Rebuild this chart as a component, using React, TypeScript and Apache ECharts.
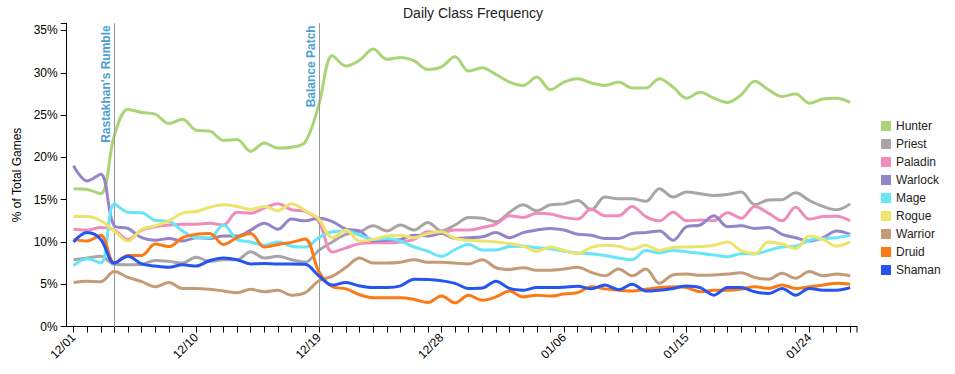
import React, { useEffect, useRef } from 'react';
import * as echarts from 'echarts';

const dates = [
  '12/01', '12/02', '12/03', '12/04', '12/05', '12/06', '12/07', '12/08', '12/09', '12/10',
  '12/11', '12/12', '12/13', '12/14', '12/15', '12/16', '12/17', '12/18', '12/19', '12/20',
  '12/21', '12/22', '12/23', '12/24', '12/25', '12/26', '12/27', '12/28', '12/29', '12/30',
  '12/31', '01/01', '01/02', '01/03', '01/04', '01/05', '01/06', '01/07', '01/08', '01/09',
  '01/10', '01/11', '01/12', '01/13', '01/14', '01/15', '01/16', '01/17', '01/18', '01/19',
  '01/20', '01/21', '01/22', '01/23', '01/24', '01/25', '01/26', '01/27',
];

const hunter = [
  16.3, 16.2, 15.7, 22.6, 25.7, 25.3, 25.1, 24.0, 24.5, 23.2,
  23.1, 22.0, 22.1, 20.7, 21.7, 21.1, 21.2, 21.8, 26.2, 32.0,
  30.8, 31.5, 32.8, 31.6, 31.8, 31.4, 30.4, 30.7, 31.9, 30.2,
  30.6, 29.8, 28.9, 28.5, 29.5, 28.0, 28.9, 29.3, 28.8, 28.5,
  28.9, 28.2, 28.2, 29.3, 28.3, 27.0, 27.7, 27.0, 26.5, 27.4,
  29.0, 28.0, 27.2, 27.5, 26.4, 26.9, 27.0, 26.5,
];
const priest = [
  7.9, 8.1, 8.3, 7.35, 7.3, 7.35, 7.8, 7.7, 7.5, 8.2,
  7.7, 7.9, 7.9, 8.85, 8.1, 8.3, 7.9, 7.6, 9.0, 10.0,
  10.9, 11.2, 11.9, 11.3, 12.0, 11.4, 12.3, 11.3, 12.0, 12.9,
  12.8, 12.4, 13.5, 14.4, 13.7, 14.4, 14.5, 14.9, 13.8, 15.3,
  15.1, 15.1, 14.8, 16.3, 15.3, 15.9, 15.7, 15.5, 15.6, 15.9,
  14.4, 14.95, 15.0, 15.8, 14.9, 14.2, 13.8, 14.5,
];
const paladin = [
  11.5, 11.4, 11.7, 11.4, 10.3, 11.4, 11.8, 12.0, 12.1, 12.1,
  12.2, 12.0, 13.5, 13.4, 14.0, 14.5, 13.8, 13.6, 12.4, 8.8,
  9.3, 9.8, 9.9, 9.9, 10.0, 10.3, 11.2, 11.1, 11.4, 11.4,
  11.7, 12.1, 13.1, 12.9, 13.4, 13.3, 12.9, 12.7, 13.9, 13.1,
  13.1, 14.2, 13.0, 12.5, 13.5, 12.5, 12.6, 12.5, 13.45, 12.8,
  14.2, 13.4, 12.5, 14.1, 12.7, 13.0, 13.05, 12.5,
];
const warlock = [
  19.0, 17.2, 18.0, 11.9, 11.6, 10.5, 10.2, 10.4, 10.1, 10.5,
  10.4, 10.7, 10.7, 11.4, 12.2, 11.5, 12.7, 12.5, 12.8, 12.4,
  11.5, 11.3, 10.1, 10.2, 10.3, 10.8, 10.7, 11.0, 10.4, 10.5,
  10.6, 11.1, 10.5, 11.1, 11.4, 11.6, 11.4, 10.9, 10.8, 10.4,
  10.4, 11.0, 11.1, 11.3, 10.2, 11.8, 12.0, 13.1, 11.8, 11.9,
  11.6, 11.7, 10.9, 10.5, 10.1, 10.5, 11.3, 10.9,
];
const mage = [
  7.2, 8.0, 7.5, 14.5, 13.5, 13.45, 12.55, 12.45, 11.3, 10.5,
  10.5, 12.0, 10.3, 10.0, 9.6, 10.0, 9.5, 9.4, 10.5, 11.2,
  11.3, 10.8, 10.3, 10.4, 10.1, 9.4, 8.9, 8.3, 9.1, 9.7,
  9.05, 9.05, 9.45, 9.5, 9.3, 9.2, 8.9, 8.7, 8.6, 8.4,
  8.1, 7.9, 9.0, 8.7, 9.0, 8.85, 8.65, 8.45, 8.25, 8.6,
  8.6, 9.0, 9.4, 9.5, 10.2, 10.4, 10.5, 10.8,
];
const rogue = [
  13.0, 13.0, 12.5, 11.3, 10.1, 11.5, 11.9, 12.5, 13.4, 13.6,
  14.1, 14.4, 14.2, 13.85, 14.2, 13.7, 14.5, 13.7, 12.7, 10.5,
  11.4, 10.1, 10.3, 10.7, 10.8, 10.5, 11.0, 11.2, 10.4, 10.2,
  10.1, 10.0, 9.8, 9.5, 8.9, 9.4, 9.0, 8.6, 9.35, 9.6,
  9.5, 9.1, 9.6, 9.0, 9.35, 9.4, 9.45, 9.6, 10.0, 8.96,
  8.6, 10.0, 9.75, 9.2, 10.7, 10.3, 9.5, 10.0,
];
const warrior = [
  5.2, 5.35, 5.3, 6.5, 5.8, 5.3, 4.7, 5.2, 4.5, 4.5,
  4.4, 4.2, 4.0, 4.4, 4.1, 4.3, 3.7, 4.0, 5.4, 5.95,
  7.0, 8.1, 7.5, 7.5, 7.6, 7.9, 7.6, 7.6, 7.5, 7.4,
  7.9, 6.95, 6.75, 6.95, 6.65, 6.65, 6.8, 7.0, 6.4, 6.0,
  6.8, 6.0, 6.8, 5.1, 6.1, 6.2, 6.05, 6.1, 6.2, 6.36,
  5.8, 5.6, 6.3, 5.7, 6.5, 6.0, 6.2, 6.0,
];
const druid = [
  10.3, 10.1, 10.8, 7.5, 8.4, 8.4, 9.75, 9.45, 10.5, 10.9,
  11.0, 9.7, 10.5, 11.0, 9.4, 9.7, 9.95, 10.35, 6.5, 4.7,
  4.45, 3.75, 3.4, 3.4, 3.4, 3.2, 2.85, 3.6, 2.8, 3.7,
  3.1, 3.5, 4.2, 3.5, 3.7, 3.6, 3.85, 4.0, 4.7, 4.45,
  4.3, 4.2, 4.4, 4.6, 4.7, 4.6, 4.1, 4.3, 4.3, 4.4,
  4.7, 4.5, 4.9, 4.5, 4.7, 4.9, 5.1, 5.0,
];
const shaman = [
  10.0, 11.1, 10.3, 7.5, 8.3, 7.4, 7.15, 7.0, 7.3, 7.15,
  7.8, 8.1, 7.9, 7.4, 7.45, 7.4, 7.4, 7.35, 6.0, 4.9,
  5.2, 4.8, 4.6, 4.6, 4.8, 5.6, 5.55, 5.4, 5.1, 4.5,
  4.55, 5.35, 4.5, 4.3, 4.6, 4.6, 4.65, 4.75, 4.45, 4.9,
  4.35, 5.0, 4.2, 4.3, 4.5, 4.8, 4.6, 3.7, 4.6, 4.6,
  4.1, 3.9, 4.5, 3.7, 4.5, 4.3, 4.3, 4.6,
];

const classNames = ['Hunter', 'Priest', 'Paladin', 'Warlock', 'Mage', 'Rogue', 'Warrior', 'Druid', 'Shaman'];
const classData = [hunter, priest, paladin, warlock, mage, rogue, warrior, druid, shaman];
const classColors = ['#aad576', '#a9a5a5', '#f08cbc', '#9484c9', '#66e6f7', '#ece46c', '#c39c77', '#fb7a15', '#2554f0'];

const eventDates = ['12/04', '12/19'];
const eventNames = ["Rastakhan's Rumble", 'Balance Patch'];

const yMax = 35.85;
const yStep = 5;

export default function App() {
  const ref = useRef<HTMLDivElement>(null);
  useEffect(() => {
    document.body.style.margin = '0';
    const chart = echarts.init(ref.current!, null, { renderer: 'svg' });
    const font = "'Liberation Sans', Arial, sans-serif";
    const series: any[] = classNames.map((name, i) => ({
      name,
      type: 'line',
      data: classData[i],
      smooth: 0.35,
      symbol: 'none',
      z: 2 + i,
      lineStyle: { width: 3, color: classColors[i] },
      itemStyle: { color: classColors[i] },
      emphasis: { disabled: true },
      markLine:
        i === 0
          ? {
              silent: true,
              symbol: ['none', 'none'],
              animation: false,
              lineStyle: { color: '#999', width: 1, type: 'solid' },
              emphasis: { disabled: true },
              label: {
                show: true,
                position: 'insideEndTop',
                formatter: (p: any) => p.name,
                color: '#4d9fd1',
                fontWeight: 'bold',
                fontSize: 12,
                fontFamily: font,
                distance: 2,
              },
              data: eventDates.map((d, k) => ({ xAxis: d, name: eventNames[k] })),
            }
          : undefined,
    }));

    chart.setOption({
      animation: false,
      textStyle: { fontFamily: font },
      title: {
        text: 'Daily Class Frequency',
        left: 398,
        top: 1,
        textStyle: { fontSize: 14, fontWeight: 'normal', color: '#222', fontFamily: font },
      },
      legend: {
        orient: 'vertical',
        left: 876,
        top: 115,
        itemWidth: 10,
        itemHeight: 10,
        itemGap: 6,
        icon: 'rect',
        textStyle: { fontSize: 12, color: '#222', fontFamily: font },
        data: classNames,
      },
      grid: { left: 66.7, right: 98, top: 23.3, bottom: 47.5, containLabel: false },
      xAxis: {
        type: 'category',
        data: dates,
        boundaryGap: true,
        axisLine: { lineStyle: { color: '#000', width: 1 } },
        axisTick: { show: true, interval: 0, alignWithLabel: true, length: 6, lineStyle: { color: '#000' } },
        axisLabel: { interval: 8, rotate: 45, fontSize: 12, color: '#000', margin: 9, fontFamily: font },
        splitLine: { show: false },
      },
      yAxis: {
        type: 'value',
        min: 0,
        max: yMax,
        interval: yStep,
        name: '% of Total Games',
        nameLocation: 'middle',
        nameGap: 44,
        nameRotate: 90,
        nameTextStyle: { fontSize: 12, color: '#000', fontFamily: font },
        axisLine: { show: true, lineStyle: { color: '#000', width: 1 } },
        axisTick: { show: true, length: 6, lineStyle: { color: '#000' } },
        axisLabel: {
          fontSize: 12,
          color: '#000',
          margin: 9,
          fontFamily: font,
          formatter: (v: number) => (Math.abs(v % yStep) < 1e-6 ? `${v}%` : ''),
        },
        splitLine: { show: false },
      },
      graphic: [
        { type: 'line', shape: { x1: 857, y1: 326.5, x2: 857, y2: 332.5 }, style: { stroke: '#000', lineWidth: 1 }, silent: true },
      ],
      series,
    });
    return () => chart.dispose();
  }, []);
  return <div ref={ref} style={{ width: 955, height: 374 }} />;
}
